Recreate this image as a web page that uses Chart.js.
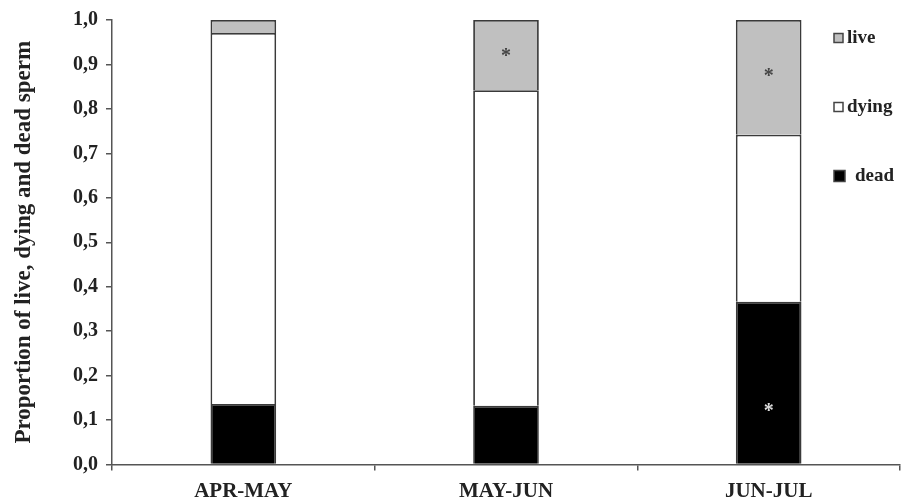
<!DOCTYPE html>
<html>
<head>
<meta charset="utf-8">
<script src="https://cdn.jsdelivr.net/npm/chart.js@4/dist/chart.umd.min.js"></script>
<style>
  html, body { margin: 0; padding: 0; background: #fff; }
  #wrap { width: 902px; height: 504px; }
</style>
</head>
<body>
<div id="wrap"><canvas id="chart" width="902" height="504"></canvas></div>
<script>
// Categories (sampling periods)
const periods = ["APR-MAY", "MAY-JUN", "JUN-JUL"];
// Proportions
const deadValues = [0.136, 0.132, 0.366];
const dyingValues = [0.835, 0.710, 0.376];
const liveValues = [0.029, 0.158, 0.258];
// y axis ticks
const yTicks = [0, 0.1, 0.2, 0.3, 0.4, 0.5, 0.6, 0.7, 0.8, 0.9, 1.0];
// asterisks: [category index, y value, colour]
const stars = [
  [1, 0.927, "#444"],
  [2, 0.881, "#444"],
  [2, 0.127, "#ddd"],
];

const serif = "'Liberation Serif', 'Times New Roman', serif";

//Draw the significance asterisks
const starPlugin = {
  id: "stars",
  afterDatasetsDraw(chart) {
    const ctx = chart.ctx;
    const x = chart.scales.x;
    const y = chart.scales.y;
    ctx.save();
    ctx.font = "bold 20px " + serif;
    ctx.textAlign = "center";
    ctx.textBaseline = "middle";
    for (const s of stars) {
      ctx.fillStyle = s[2];
      ctx.fillText("*", x.getPixelForValue(s[0]), y.getPixelForValue(s[1]) + 4);
    }
    ctx.restore();
  },
};

//Legend stacked top right, over the plot (live, dying, dead)
const legendPlugin = {
  id: "sideLegend",
  afterDraw(chart) {
    const ctx = chart.ctx;
    const area = chart.chartArea;
    const sets = chart.data.datasets.slice().reverse();
    ctx.save();
    ctx.font = "bold 19px " + serif;
    ctx.textBaseline = "middle";
    ctx.textAlign = "left";
    sets.forEach((ds, i) => {
      const cy = area.top + 18 + i * 69;
      const bx = 834;
      const big = ds.label == "dead";
      const size = big ? 11 : 9;
      ctx.fillStyle = ds.backgroundColor;
      ctx.fillRect(bx, cy - size / 2, size, size);
      ctx.strokeStyle = "#444";
      ctx.lineWidth = 1.5;
      ctx.strokeRect(bx, cy - size / 2, size, size);
      ctx.fillStyle = "#222";
      ctx.fillText(ds.label, bx + (big ? 21 : 13), cy);
    });
    ctx.restore();
  },
};

const ctx = document.getElementById("chart").getContext("2d");
new Chart(ctx, {
  type: "bar",
  data: {
    labels: periods,
    datasets: [
      {
        label: "dead",
        data: deadValues,
        backgroundColor: "#000000",
        borderColor: "#3a3a3a",
        borderWidth: 1.8,
      },
      {
        label: "dying",
        data: dyingValues,
        backgroundColor: "#ffffff",
        borderColor: "#3a3a3a",
        borderWidth: 1.8,
      },
      {
        label: "live",
        data: liveValues,
        backgroundColor: "#c0c0c0",
        borderColor: "#3a3a3a",
        borderWidth: 1.8,
      },
    ],
  },
  plugins: [starPlugin, legendPlugin],
  options: {
    responsive: false,
    animation: false,
    categoryPercentage: 1,
    barPercentage: 0.25,
    layout: { padding: { top: 20, right: 2, left: 0, bottom: 0 } },
    plugins: {
      tooltip: { enabled: false },
      legend: { display: false },
    },
    scales: {
      x: {
        stacked: true,
        border: { color: "#555", width: 1.5 },
        grid: {
          offset: true,
          drawOnChartArea: false,
          tickLength: 6,
          color: "#555",
          lineWidth: 1.5,
        },
        ticks: {
          color: "#222",
          font: { family: serif, size: 21, weight: "bold" },
          padding: 8,
        },
        afterFit(scale) {
          scale.height = 39.5;
        },
      },
      y: {
        stacked: true,
        min: 0,
        max: 1,
        border: { color: "#555", width: 1.5 },
        grid: {
          drawOnChartArea: false,
          tickLength: 6,
          color: "#555",
          lineWidth: 1.5,
        },
        afterBuildTicks(scale) {
          scale.ticks = yTicks.map((v) => ({ value: v }));
        },
        ticks: {
          color: "#222",
          font: { family: serif, size: 20, weight: "bold" },
          padding: 8,
          callback: (v) => Number(v).toFixed(1).replace(".", ","),
        },
        title: {
          display: true,
          text: "Proportion of live, dying and dead sperm",
          color: "#222",
          font: { family: serif, size: 23, weight: "bold" },
          padding: { top: 10, bottom: 4 },
        },
        afterFit(scale) {
          scale.width = 112;
        },
      },
    },
  },
});
</script>
</body>
</html>
